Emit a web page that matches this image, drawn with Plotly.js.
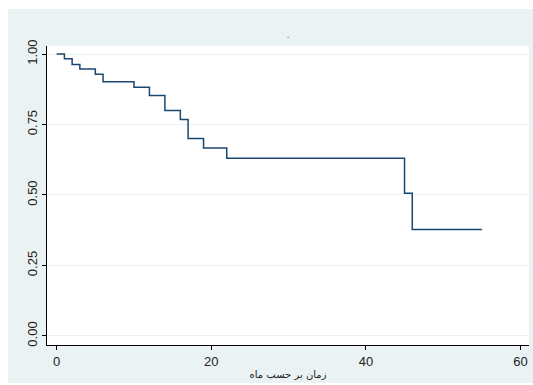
<!DOCTYPE html>
<html>
<head>
<meta charset="utf-8">
<script src="https://cdn.plot.ly/plotly-3.0.1.min.js"></script>
<style>
html,body{margin:0;padding:0;background:#ffffff;width:533px;height:385px;overflow:hidden;}
#chart{position:absolute;left:8px;top:9px;width:525px;height:374px;}
</style>
</head>
<body>
<div id="chart"></div>
<script>
// Kaplan-Meier survival estimate
const timeMonths = [0, 1, 2, 3, 5, 6, 10, 12, 14, 16, 17, 19, 22, 45, 46, 55];
const survival = [1.0, 0.983, 0.963, 0.947, 0.928, 0.902, 0.882, 0.853, 0.800, 0.768, 0.700, 0.667, 0.630, 0.506, 0.378, 0.378];
const xTickVals = [0, 20, 40, 60];
const yTickVals = [0, 0.25, 0.5, 0.75, 1];
const yTickText = ["0.00", "0.25", "0.50", "0.75", "1.00"];
const xTitle = "زمان بر حسب ماه";
const chartTitle = ".";

const trace = {
  x: timeMonths,
  y: survival,
  type: "scatter",
  mode: "lines",
  line: {shape: "hv", color: "#1a476f", width: 1.5},
  hoverinfo: "x+y",
  showlegend: false
};

const layout = {
  width: 525,
  height: 374,
  margin: {l: 39, r: 4, t: 37, b: 38},
  paper_bgcolor: "#eaf2f3",
  plot_bgcolor: "#ffffff",
  font: {family: "Liberation Sans, Arial, sans-serif", size: 13, color: "#222222"},
  title: {text: chartTitle, xref: "paper", x: 0.5, xanchor: "center", y: 0.922, yanchor: "bottom",
          font: {size: 11, color: "#6a86a8"}},
  xaxis: {
    range: [-1.25, 61.1],
    tickvals: xTickVals,
    ticks: "outside", ticklen: 4, tickcolor: "#000000", tickwidth: 1,
    showline: true, linecolor: "#000000", linewidth: 1,
    showgrid: false, zeroline: false,
    tickfont: {size: 13, color: "#222222"},
    title: {text: xTitle, standoff: 3, font: {family: "DejaVu Sans, sans-serif", size: 10, color: "#222222"}}
  },
  yaxis: {
    range: [-0.032, 1.0284],
    tickvals: yTickVals,
    ticktext: yTickText,
    tickangle: -90,
    ticks: "outside", ticklen: 4, tickcolor: "#000000", tickwidth: 1,
    showline: true, linecolor: "#000000", linewidth: 1,
    showgrid: true, gridcolor: "#eaf2f3", gridwidth: 1,
    zeroline: false,
    tickfont: {size: 13, color: "#222222"}
  }
};

Plotly.newPlot("chart", [trace], layout, {displayModeBar: false, staticPlot: true});
</script>
</body>
</html>
